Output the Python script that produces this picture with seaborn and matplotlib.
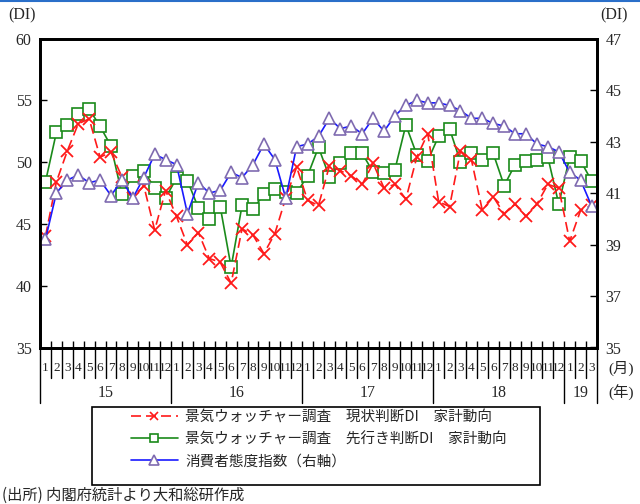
import numpy as np
import pandas as pd
import matplotlib
matplotlib.use("Agg")
import matplotlib.pyplot as plt
import matplotlib.transforms as mtrans
from matplotlib.lines import Line2D
from matplotlib.patches import Rectangle
import seaborn as sns

# ---------------- data ----------------
months = list(range(1, 13)) * 4 + [1, 2, 3]
years = ["15", "16", "17", "18", "19"]
year_lengths = [12, 12, 12, 12, 3]

current_di = [44.0, 48.4, 50.9, 53.1, 53.5, 50.4, 50.8, 48.8, 47.1, 48.1, 44.5, 47.7,
              45.6, 43.3, 44.3, 42.2, 41.9, 40.2, 44.6, 44.1, 42.6, 44.2, 47.1, 49.6,
              46.9, 46.5, 49.7, 49.3, 48.9, 48.2, 49.9, 47.9, 48.2, 47.0, 50.4, 52.3,
              46.8, 46.4, 50.9, 50.2, 46.1, 47.2, 45.8, 46.6, 45.6, 46.6, 48.2, 47.9,
              43.6, 46.1, 46.5]
future_di = [48.4, 52.4, 53.0, 53.9, 54.3, 52.9, 51.3, 47.4, 48.9, 49.3, 47.9, 47.1,
             48.7, 48.5, 46.3, 45.4, 46.4, 41.5, 46.5, 46.2, 47.4, 47.8, 47.6, 47.5,
             48.9, 51.2, 48.8, 49.9, 50.7, 50.7, 49.2, 49.1, 49.4, 53.0, 50.6, 50.1,
             52.1, 52.7, 50.0, 50.7, 50.2, 50.7, 48.1, 49.8, 50.1, 50.2, 50.4, 46.6,
             50.4, 50.1, 48.5]
consumer_idx = [39.2, 41.0, 41.5, 41.7, 41.4, 41.5, 40.9, 41.5, 40.8, 41.6, 42.5, 42.3,
                42.1, 40.2, 41.4, 41.0, 41.1, 41.8, 41.6, 42.1, 42.9, 42.3, 40.8, 42.8,
                42.9, 43.2, 43.9, 43.5, 43.6, 43.3, 43.9, 43.4, 44.0, 44.4, 44.6, 44.5,
                44.5, 44.4, 44.2, 43.9, 43.9, 43.7, 43.6, 43.3, 43.3, 42.9, 42.8, 42.6,
                41.8, 41.5, 40.5]

label_current = "景気ウォッチャー調査　現状判断DI　家計動向"
label_future = "景気ウォッチャー調査　先行き判断DI　家計動向"
label_consumer = "消費者態度指数（右軸）"
left_ticks = [35, 40, 45, 50, 55, 60]
right_ticks = [35, 37, 39, 41, 43, 45, 47]
source_text = "(出所) 内閣府統計より大和総研作成"

# ---------------- style ----------------
sns.set_theme(style="white")
plt.rcParams["font.family"] = ["Liberation Serif", "Noto Sans CJK JP", "DejaVu Sans"]
plt.rcParams["axes.unicode_minus"] = False

RED, GREEN, BLUE, PURPLE = "#ff1a1a", "#1a8a1a", "#1a1aff", "#7f6bb0"

n = len(months)
df = pd.DataFrame({
    "idx": np.arange(n),
    "current": current_di,
    "future": future_di,
    "consumer": consumer_idx,
})

W, H = 640, 504
fig = plt.figure(figsize=(W / 100, H / 100), dpi=100)
ax = fig.add_axes([40 / W, 1 - 347.5 / H, 557 / W, 309 / H])
ax2 = ax.twinx()

sns.lineplot(data=df, x="idx", y="consumer", ax=ax2, color=BLUE, linewidth=1.2,
             marker="^", markersize=9, markerfacecolor="white",
             markeredgecolor=PURPLE, markeredgewidth=1.2, legend=False)
sns.lineplot(data=df, x="idx", y="future", ax=ax, color=GREEN, linewidth=1.2,
             marker="s", markersize=8, markerfacecolor="white",
             markeredgecolor=GREEN, markeredgewidth=1.2, legend=False)
sns.lineplot(data=df, x="idx", y="current", ax=ax, color=RED, linewidth=1.2,
             linestyle=(0, (6, 3)), marker="x", markersize=8,
             markeredgecolor=RED, markeredgewidth=1.3, legend=False)

# axes limits and ticks
ax.set_xlim(-0.5, n - 0.5)
ax.set_ylim(35, 60)
ax2.set_ylim(35, 47)
ax.set_yticks(left_ticks)
ax.set_yticklabels([str(t) for t in left_ticks], fontsize=11.5)
ax2.set_yticks(right_ticks)
ax2.set_yticklabels([str(t) for t in right_ticks], fontsize=11.5)
ax.set_xticks(np.arange(-0.5, n, 1.0))
ax.set_xticklabels([])
ax.set_xlabel("")
ax.set_ylabel("")
ax2.set_ylabel("")
ax.tick_params(axis="x", direction="in", length=5, width=1, color="black", bottom=True)
ax.tick_params(axis="y", direction="in", length=5, width=1, color="black", left=True, pad=6)
ax2.tick_params(axis="y", direction="in", length=5, width=1, color="black", right=True, pad=6)
for a in (ax, ax2):
    for s in a.spines.values():
        s.set_visible(True)
        s.set_color("black")
        s.set_linewidth(2)

# category separators and labels below the axis
trans = mtrans.blended_transform_factory(ax.transData, ax.transAxes)
year_bounds = [-0.5]
for L in year_lengths:
    year_bounds.append(year_bounds[-1] + L)
for i in range(n + 1):
    xb = i - 0.5
    depth = 0.18 if xb in year_bounds else 0.10
    ax.add_line(Line2D([xb, xb], [0, -depth], transform=trans, color="black",
                       linewidth=1, clip_on=False))
for i, m in enumerate(months):
    ax.text(i, -0.066, str(m), transform=trans, ha="center", va="center", fontsize=9.5)
for k, y in enumerate(years):
    mid = (year_bounds[k] + year_bounds[k + 1]) / 2
    ax.text(mid, -0.148, y, transform=trans, ha="center", va="center", fontsize=11.5)

fig.text(621 / W, 1 - 368 / H, "(月)", ha="center", va="center", fontsize=11)
fig.text(621 / W, 1 - 393 / H, "(年)", ha="center", va="center", fontsize=11)
fig.text(22 / W, 1 - 15 / H, "(DI)", ha="center", va="center", fontsize=11.5)
fig.text(614 / W, 1 - 15 / H, "(DI)", ha="center", va="center", fontsize=11.5)

# legend box
fig.add_artist(Rectangle((92 / W, 1 - 485 / H), 448 / W, 78 / H, transform=fig.transFigure,
                         fill=False, edgecolor="black", linewidth=1.2))
handles = [
    Line2D([], [], color=RED, linewidth=1.2, linestyle=(0, (6, 3)), marker="x",
           markersize=6, markeredgecolor=RED, markeredgewidth=1.2),
    Line2D([], [], color=GREEN, linewidth=1.2, marker="s", markersize=6,
           markerfacecolor="white", markeredgecolor=GREEN, markeredgewidth=1.2),
    Line2D([], [], color=BLUE, linewidth=1.2, marker="^", markersize=7,
           markerfacecolor="white", markeredgecolor=PURPLE, markeredgewidth=1.2),
]
labels = [label_current, label_future, label_consumer]
leg = fig.legend(handles, labels, loc="upper left", bbox_to_anchor=(131 / W, 1 - 410 / H),
                 frameon=False, handlelength=3.2, handletextpad=0.5,
                 labelspacing=0.55, borderaxespad=0, borderpad=0,
                 prop={"family": ["Noto Sans CJK JP", "DejaVu Sans"], "size": 10.5})

fig.text(2 / W, 1 - 495 / H, source_text, ha="left", va="center", fontsize=11,
         family=["Noto Sans CJK JP", "DejaVu Sans"])

# top blue rule
fig.add_artist(Line2D([0, 1], [1 - 1 / H, 1 - 1 / H], transform=fig.transFigure,
                      color="#2a6fc9", linewidth=1.5))

fig.savefig("out.png", dpi=100)
